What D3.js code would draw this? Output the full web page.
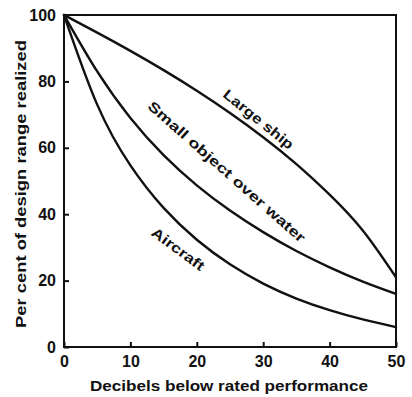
<!DOCTYPE html>
<html><head><meta charset="utf-8">
<script src="https://cdn.jsdelivr.net/npm/d3@7"></script>
<style>
html,body{margin:0;padding:0;background:#fff;}
svg{display:block;}
text{font-family:"Liberation Sans",Arial,sans-serif;font-weight:bold;fill:#111;}
</style></head>
<body><svg id="c" width="412" height="397"></svg>
<script>
// Data
const xValues = [0, 5, 10, 15, 20, 25, 30, 35, 40, 45, 50];
const largeShip = [100, 94.7, 89.2, 83.4, 77.2, 70.5, 63.2, 55.1, 45.9, 35.1, 21];
const smallObject = [100, 83, 69, 57.8, 48.7, 41.1, 34.6, 28.9, 24, 19.7, 16];
const aircraft = [100, 73, 54.7, 41.9, 32.3, 24.9, 19.1, 14.6, 11.1, 8.3, 6];
const seriesNames = ["Large ship", "Small object over water", "Aircraft"];
const xTicks = [0, 10, 20, 30, 40, 50];
const yTicks = [0, 20, 40, 60, 80, 100];
const xTitle = "Decibels below rated performance";
const yTitle = "Per cent of design range realized";

const svg = d3.select("#c");
const x = d3.scaleLinear().domain([0, 50]).range([64, 396]);
const y = d3.scaleLinear().domain([0, 100]).range([347, 15]);
const ink = "#111";

// frame
svg.append("rect").attr("x", x(0)).attr("y", y(100))
  .attr("width", x(50) - x(0)).attr("height", y(0) - y(100))
  .attr("fill", "none").attr("stroke", ink).attr("stroke-width", 2);

// axes with inward ticks
const xAxis = svg.append("g").attr("transform", `translate(0,${y(0)})`)
  .call(d3.axisBottom(x).tickValues(xTicks).tickSize(-5).tickPadding(9).tickFormat(d3.format("d")));
const yAxis = svg.append("g").attr("transform", `translate(${x(0)},0)`)
  .call(d3.axisLeft(y).tickValues(yTicks).tickSize(-5).tickPadding(8).tickFormat(d3.format("d")));
[xAxis, yAxis].forEach(g => {
  g.select(".domain").remove();
  g.selectAll(".tick line").attr("stroke", ink).attr("stroke-width", 2);
  g.selectAll(".tick text").attr("fill", ink).style("font-size", "16px")
    .style("font-family", "'Liberation Sans',Arial,sans-serif").style("font-weight", "bold");
});

// curves
const line = d3.line().x(d => x(d[0])).y(d => y(d[1])).curve(d3.curveNatural);
[largeShip, smallObject, aircraft].forEach(vals => {
  svg.append("path").datum(xValues.map((v, i) => [v, vals[i]]))
    .attr("d", line).attr("fill", "none").attr("stroke", ink)
    .attr("stroke-width", 2.4).attr("stroke-linecap", "round");
});

// curve labels (positions in data units)
const labelPos = [
  {name: seriesNames[0], xv: 29.3, yv: 68.6, ang: 39, len: 86},
  {name: seriesNames[1], xv: 24.5, yv: 52.8, ang: 41.5, len: 205},
  {name: seriesNames[2], xv: 17.2, yv: 29.5, ang: 36.5, len: 62}
];
labelPos.forEach(l => {
  svg.append("text").attr("transform", `translate(${x(l.xv)},${y(l.yv)}) rotate(${l.ang})`)
    .attr("text-anchor", "middle").attr("dy", "0.35em")
    .style("font-size", "14px").attr("textLength", l.len).attr("lengthAdjust", "spacingAndGlyphs")
    .text(l.name);
});

// axis titles
svg.append("text").attr("x", 229).attr("y", 391).attr("text-anchor", "middle")
  .style("font-size", "15px").attr("textLength", 278).attr("lengthAdjust", "spacingAndGlyphs")
  .text(xTitle);
svg.append("text").attr("transform", "translate(26,184) rotate(-90)").attr("text-anchor", "middle")
  .style("font-size", "15px").attr("textLength", 288).attr("lengthAdjust", "spacingAndGlyphs")
  .text(yTitle);
</script></body></html>
